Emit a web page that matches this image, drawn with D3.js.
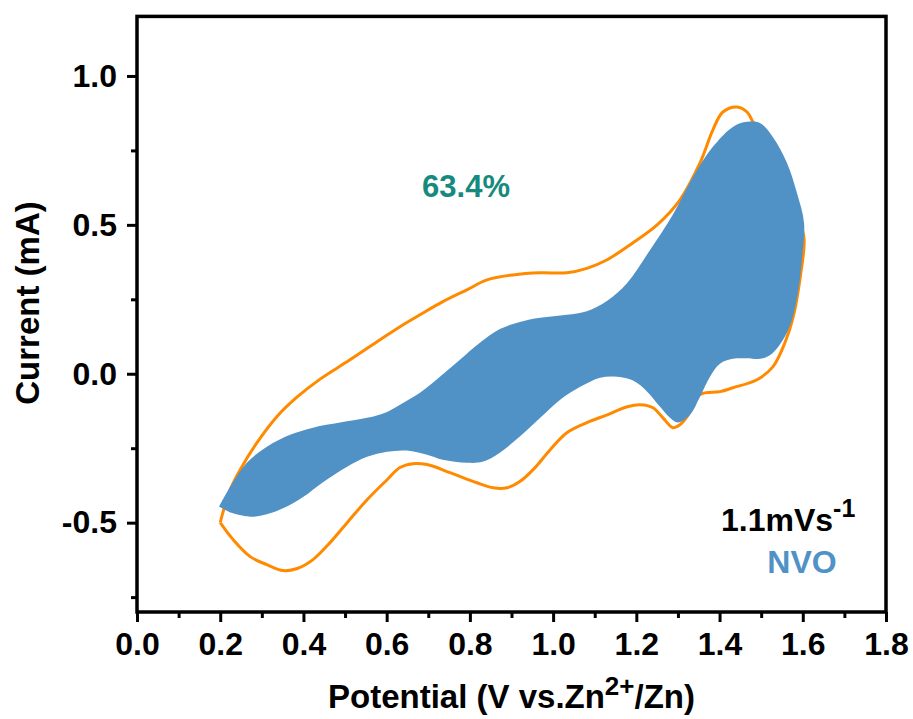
<!DOCTYPE html>
<html>
<head>
<meta charset="utf-8">
<script src="https://cdn.jsdelivr.net/npm/d3@7"></script>
<style>
  html, body { margin: 0; padding: 0; background: #fff; }
  svg { display: block; font-family: "Liberation Sans", Arial, Helvetica, sans-serif; font-weight: bold; }
</style>
</head>
<body>
<svg id="chart" width="913" height="719"></svg>
<script>
// Cyclic voltammogram of NVO at 1.1 mV/s with the capacitive-contribution region.

// Potential ticks (V vs. Zn2+/Zn)
const potentialTicks = [0.0, 0.2, 0.4, 0.6, 0.8, 1.0, 1.2, 1.4, 1.6, 1.8];
const potentialMinorTicks = [0.1, 0.3, 0.5, 0.7, 0.9, 1.1, 1.3, 1.5, 1.7];
// Current ticks (mA)
const currentTicks = [-0.5, 0.0, 0.5, 1.0];
const currentMinorTicks = [-0.75, -0.25, 0.25, 0.75];

// Measured CV, anodic sweep 0.2 -> 1.6 V  [potential, current]
const cvAnodic = [
  [0.200, -0.500], [0.207, -0.463], [0.224, -0.389], [0.248, -0.322], [0.288, -0.232],
  [0.336, -0.144], [0.385, -0.078], [0.440, -0.018], [0.510, 0.045],
  [0.584, 0.114], [0.632, 0.158], [0.680, 0.198], [0.735, 0.242], [0.793, 0.282],
  [0.841, 0.315], [0.904, 0.332], [0.969, 0.339], [1.033, 0.339], [1.081, 0.354],
  [1.130, 0.383], [1.192, 0.440], [1.250, 0.500], [1.305, 0.584], [1.353, 0.708],
  [1.384, 0.819], [1.408, 0.879], [1.442, 0.896], [1.466, 0.879], [1.480, 0.846],
  [1.520, 0.740], [1.560, 0.620], [1.590, 0.520], [1.603, 0.455]
];
// Measured CV, cathodic sweep 1.6 -> 0.2 V
const cvCathodic = [
  [1.594, 0.326], [1.577, 0.191], [1.557, 0.104], [1.528, 0.023], [1.490, -0.020],
  [1.432, -0.047], [1.401, -0.060], [1.353, -0.070], [1.322, -0.144], [1.305, -0.171],
  [1.288, -0.181], [1.264, -0.148], [1.240, -0.114], [1.209, -0.104], [1.178, -0.111],
  [1.130, -0.138], [1.081, -0.164], [1.033, -0.198], [0.993, -0.255], [0.952, -0.322],
  [0.920, -0.362], [0.889, -0.383], [0.856, -0.383], [0.817, -0.366], [0.752, -0.332],
  [0.697, -0.305], [0.663, -0.302], [0.632, -0.315], [0.601, -0.356], [0.553, -0.423],
  [0.505, -0.500], [0.464, -0.567], [0.423, -0.624], [0.385, -0.654], [0.351, -0.661],
  [0.312, -0.641], [0.272, -0.614], [0.231, -0.557], [0.200, -0.500]
];

// Capacitive contribution, upper boundary 0.2 -> 1.6 V
const capUpper = [
  [0.197, -0.446], [0.224, -0.379], [0.264, -0.299], [0.312, -0.245], [0.368, -0.205],
  [0.423, -0.181], [0.488, -0.164], [0.553, -0.148], [0.601, -0.128], [0.632, -0.104],
  [0.680, -0.064], [0.728, -0.010], [0.776, 0.047], [0.824, 0.104], [0.872, 0.150],
  [0.920, 0.174], [0.969, 0.188], [1.033, 0.198], [1.081, 0.210], [1.130, 0.245],
  [1.178, 0.305], [1.233, 0.416], [1.288, 0.535], [1.336, 0.661], [1.384, 0.762],
  [1.432, 0.829], [1.466, 0.846], [1.497, 0.842], [1.528, 0.795], [1.562, 0.708],
  [1.586, 0.607], [1.603, 0.507]
];
// Capacitive contribution, lower boundary 1.6 -> 0.2 V
const capLower = [
  [1.599, 0.400], [1.588, 0.270], [1.569, 0.160], [1.545, 0.098], [1.521, 0.062],
  [1.497, 0.050], [1.466, 0.052], [1.432, 0.050], [1.401, 0.034], [1.377, -0.010],
  [1.353, -0.077], [1.329, -0.138], [1.300, -0.164], [1.281, -0.148], [1.257, -0.111],
  [1.226, -0.060], [1.192, -0.023], [1.154, -0.010], [1.113, -0.013], [1.065, -0.044],
  [1.017, -0.087], [0.969, -0.148], [0.920, -0.211], [0.872, -0.265], [0.832, -0.295],
  [0.793, -0.299], [0.735, -0.289], [0.697, -0.272], [0.649, -0.258], [0.601, -0.262],
  [0.553, -0.279], [0.505, -0.312], [0.447, -0.364], [0.399, -0.414], [0.351, -0.452],
  [0.312, -0.472], [0.272, -0.480], [0.224, -0.466]
];

const capacitiveShare = "63.4%";
const scanRateLabel = "1.1mVs";
const sampleName = "NVO";

const colors = { cv: "#ff8a00", cap: "#5192c6", share: "#168a7e", text: "#000" };

const svg = d3.select("#chart");
const plot = { left: 137, right: 886, top: 16.4, bottom: 612 };

const x = d3.scaleLinear().domain([0, 1.8]).range([plot.left, plot.right]);
const y = d3.scaleLinear().domain([-0.8, 1.2]).range([plot.bottom, plot.top]);

const line = d3.line().x(d => x(d[0])).y(d => y(d[1])).curve(d3.curveCatmullRom.alpha(0.5));

// CV loop
svg.append("path")
  .attr("d", line(cvAnodic.concat(cvCathodic)))
  .attr("fill", "none")
  .attr("stroke", colors.cv)
  .attr("stroke-width", 3)
  .attr("stroke-linejoin", "round");

// Capacitive region
svg.append("path")
  .attr("d", line(capUpper.concat(capLower)) + "Z")
  .attr("fill", colors.cap)
  .attr("stroke", "none");

// Axes
const fmt = d => d.toFixed(1);
const styleAxis = g => {
  g.select(".domain").remove();
  g.selectAll(".tick line").attr("stroke", "#000").attr("stroke-width", 3);
  g.selectAll(".tick text").attr("fill", "#000").attr("font-size", 32)
    .attr("font-family", '"Liberation Sans", Arial, sans-serif').attr("font-weight", "bold");
};

svg.append("g")
  .attr("transform", `translate(0,${plot.bottom})`)
  .call(d3.axisBottom(x).tickValues(potentialMinorTicks).tickSize(6).tickFormat(""))
  .call(styleAxis);
svg.append("g")
  .attr("transform", `translate(0,${plot.bottom})`)
  .call(d3.axisBottom(x).tickValues(potentialTicks).tickSize(10).tickPadding(10).tickFormat(fmt))
  .call(styleAxis);

svg.append("g")
  .attr("transform", `translate(${plot.left},0)`)
  .call(d3.axisLeft(y).tickValues(currentMinorTicks).tickSize(6).tickFormat(""))
  .call(styleAxis);
svg.append("g")
  .attr("transform", `translate(${plot.left},0)`)
  .call(d3.axisLeft(y).tickValues(currentTicks).tickSize(10).tickPadding(10).tickFormat(fmt))
  .call(styleAxis);

// Frame
svg.append("rect")
  .attr("x", plot.left).attr("y", plot.top)
  .attr("width", plot.right - plot.left).attr("height", plot.bottom - plot.top)
  .attr("fill", "none").attr("stroke", "#000").attr("stroke-width", 3.5);

// Axis titles
const xt = svg.append("text")
  .attr("x", (plot.left + plot.right) / 2).attr("y", 708)
  .attr("text-anchor", "middle").attr("font-size", 33).attr("fill", colors.text);
xt.append("tspan").text("Potential (V vs.Zn");
xt.append("tspan").attr("font-size", 26).attr("dy", -13).text("2+");
xt.append("tspan").attr("dy", 13).text("/Zn)");

svg.append("text")
  .attr("transform", `translate(39,303) rotate(-90)`)
  .attr("text-anchor", "middle").attr("font-size", 33).attr("fill", colors.text)
  .text("Current (mA)");

// Annotations
svg.append("text")
  .attr("x", 466).attr("y", 197)
  .attr("text-anchor", "middle").attr("font-size", 31).attr("fill", colors.share)
  .text(capacitiveShare);

const sr = svg.append("text")
  .attr("x", 721).attr("y", 531)
  .attr("font-size", 32).attr("fill", colors.text);
sr.append("tspan").text(scanRateLabel);
sr.append("tspan").attr("font-size", 25).attr("dy", -14).text("-1");

svg.append("text")
  .attr("x", 802).attr("y", 573)
  .attr("text-anchor", "middle").attr("font-size", 32).attr("fill", colors.cap)
  .text(sampleName);
</script>
</body>
</html>
